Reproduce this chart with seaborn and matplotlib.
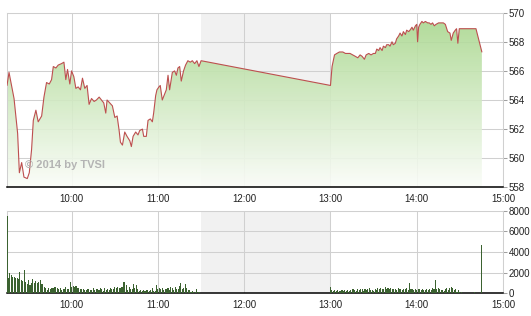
import numpy as np
import matplotlib
matplotlib.use("Agg")
import matplotlib.pyplot as plt
import seaborn as sns
from matplotlib.colors import LinearSegmentedColormap

# ---- data (minutes after 09:00) ----
price_min_am = [15, 16.4, 19.9, 22.4, 23.6, 25.2, 26.8, 29.1, 30.5, 32.1,
                33.3, 35.1, 36.7, 39.1, 40.7, 42.5, 44.4, 46.0, 47.2, 49.0,
                50.6, 52.9, 54.6, 55.9, 57.1, 58.7, 59.9, 61.5, 62.9, 64.5,
                66.1, 67.5, 69.1, 70.7, 72.1, 73.8, 75.6, 77.2, 79.1, 80.7,
                82.3, 83.7, 84.6, 86.5, 88.3, 90.0, 91.6, 93.0, 93.9, 95.3,
                96.9, 98.5, 100.4, 101.5, 102.7, 104.5, 106.1, 107.3, 109.2, 110.1,
                111.9, 113.1, 114.7, 116.1, 117.0, 118.4, 119.3, 120.7, 121.6, 123.0,
                124.2, 125.8, 127.0, 128.1, 130.0, 131.6, 132.8, 133.9, 135.1, 136.2,
                137.8, 139.2, 140.8, 142.5, 143.9, 145.5, 147.1, 148.5, 150]
price_val_am = [565.0, 565.9, 564.1, 561.7, 559.0, 559.7, 558.7, 558.6, 559.0, 560.6,
                562.6, 563.3, 562.5, 562.9, 564.2, 565.2, 565.1, 565.4, 566.3, 566.2,
                566.4, 566.5, 566.6, 565.4, 566.1, 565.1, 566.0, 565.6, 564.8, 564.9,
                564.7, 565.5, 564.8, 565.0, 563.7, 564.1, 563.9, 564.0, 564.2, 564.0,
                563.8, 563.1, 564.0, 563.8, 563.6, 562.8, 562.9, 561.9, 561.1, 560.9,
                561.8, 561.5, 561.2, 560.8, 561.5, 561.8, 561.6, 561.9, 562.0, 561.5,
                561.5, 562.6, 562.7, 562.5, 563.1, 564.3, 564.7, 564.9, 565.0, 564.0,
                564.3, 564.7, 565.7, 564.7, 565.9, 566.0, 565.7, 566.2, 566.3, 565.3,
                566.0, 566.4, 566.7, 566.6, 566.7, 566.5, 566.7, 566.3, 566.7]
price_min_pm = [240, 241.1, 242.8, 244.4, 246.2, 248.6, 250.4, 252.0, 253.6, 255.5,
                257.3, 259.0, 260.6, 262.0, 263.6, 264.8, 266.6, 268.2, 269.9, 271.2,
                272.2, 273.5, 274.5, 275.9, 276.8, 278.2, 279.1, 280.5, 281.4, 282.8,
                283.7, 285.1, 286.0, 287.4, 288.4, 289.7, 290.7, 292.1, 293.0, 294.4,
                295.3, 296.7, 297.6, 299.1, 300.0, 300.6, 301.3, 302.2, 303.6, 304.6,
                306.0, 307.6, 308.7, 309.9, 311.0, 312.2, 313.4, 315.2, 316.8, 318.5,
                319.9, 321.5, 323.1, 324.0, 325.4, 326.8, 327.7, 328.6, 329.6, 341.2,
                345.3]
price_val_pm = [565.0, 566.3, 567.1, 567.2, 567.3, 567.3, 567.2, 567.2, 567.2, 567.1,
                567.0, 566.9, 567.1, 567.0, 566.8, 567.1, 567.2, 567.1, 567.2, 567.2,
                567.5, 567.4, 567.6, 567.4, 567.7, 567.6, 567.8, 567.8, 567.7, 568.0,
                567.8, 567.9, 568.2, 568.4, 568.6, 568.4, 568.7, 568.5, 568.8, 568.7,
                568.8, 569.0, 568.8, 569.1, 569.2, 568.0, 569.0, 569.2, 569.4, 569.3,
                569.4, 569.3, 569.3, 569.2, 569.3, 569.1, 569.2, 569.3, 569.3, 569.3,
                569.2, 568.7, 568.6, 568.1, 568.6, 568.8, 568.9, 567.9, 568.9, 568.9,
                567.3]

vol_min_am = list(range(15, 151))
vol_val_am = [7500, 1500, 1940, 1780, 1600, 1600, 1500, 1450, 1400, 2100,
              1300, 1200, 2260, 1130, 870, 1300, 800, 1000, 1390, 970,
              1200, 970, 1100, 1300, 870, 870, 650, 480, 320, 480,
              420, 480, 480, 650, 600, 550, 420, 480, 320, 390,
              390, 650, 420, 420, 1070, 650, 740, 650, 740, 550,
              480, 390, 390, 420, 320, 350, 390, 420, 320, 320,
              480, 320, 390, 420, 320, 480, 420, 260, 480, 320,
              390, 320, 480, 390, 390, 580, 480, 650, 480, 480,
              580, 1070, 1130, 800, 320, 580, 390, 390, 870, 480,
              800, 390, 260, 320, 260, 320, 260, 320, 320, 260,
              320, 480, 260, 260, 800, 390, 480, 390, 480, 320,
              390, 390, 480, 320, 650, 480, 320, 650, 390, 390,
              700, 970, 390, 480, 900, 480, 320, 320, 160, 260,
              160, 160, 390, 160, 100, 60]
vol_min_pm = list(range(240, 332)) + [340, 345]
vol_val_pm = [650, 320, 230, 320, 260, 320, 230, 230, 320, 260,
              320, 260, 320, 230, 320, 390, 390, 320, 260, 390,
              320, 390, 390, 260, 390, 320, 390, 480, 320, 320,
              260, 390, 320, 480, 420, 550, 390, 390, 580, 420,
              480, 390, 480, 390, 420, 420, 320, 480, 390, 420,
              320, 390, 390, 480, 320, 1030, 390, 390, 320, 420,
              320, 390, 420, 320, 420, 320, 320, 390, 320, 390,
              320, 480, 390, 1290, 390, 480, 390, 320, 320, 230,
              390, 480, 320, 480, 650, 480, 320, 420, 160, 320,
              160, 100, 100, 4700]

time_ticks = [60, 120, 180, 240, 300, 360]
time_labels = ["10:00", "11:00", "12:00", "13:00", "14:00", "15:00"]
price_ticks = [558, 560, 562, 564, 566, 568, 570]
vol_ticks = [0, 2000, 4000, 6000, 8000]
lunch = (150, 240)
watermark = "© 2014 by TVSI"

price_min = price_min_am + price_min_pm
price_val = price_val_am + price_val_pm
vol_min = vol_min_am + vol_min_pm
vol_val = vol_val_am + vol_val_pm

# ---- style ----
sns.set_style("white")
plt.rcParams['font.family'] = ['Liberation Sans', 'DejaVu Sans']

W, H = 531, 316
fig = plt.figure(figsize=(W / 100, H / 100), dpi=100)
L, R = 7, 503
ax1 = fig.add_axes([L / W, 1 - 187.3 / H, (R - L) / W, (187.3 - 12.7) / H])
ax2 = fig.add_axes([L / W, 1 - 293.3 / H, (R - L) / W, (293.3 - 210.7) / H])

grid_c = '#d0d0d0'
for ax in (ax1, ax2):
    ax.axvspan(*lunch, color='#f1f1f1', zorder=0, lw=0)
    ax.set_axisbelow(True)
    ax.grid(True, color=grid_c, lw=0.75)
    for s in ('left', 'right', 'top'):
        ax.spines[s].set_color(grid_c)
        ax.spines[s].set_linewidth(0.75)
    ax.spines['bottom'].set_color('black')
    ax.spines['bottom'].set_linewidth(1.1)

# price line + gradient fill
sns.lineplot(x=price_min, y=price_val, ax=ax1, color='#bd4f4f', lw=0.8, zorder=4)
poly = ax1.fill_between(price_min, price_val, 558, color='none', lw=0)
cmap = LinearSegmentedColormap.from_list('g', ['#fbfdf9', '#a6d68a'])
grad = np.linspace(0, 1, 256).reshape(-1, 1)
im = ax1.imshow(grad, extent=[15, 360, 558, 570], aspect='auto', origin='lower',
                cmap=cmap, zorder=2, alpha=0.9, interpolation='bilinear')
im.set_clip_path(poly.get_paths()[0], ax1.transData)
ax1.text(27.5, 559.55, watermark, color='#b4b4b4', fontsize=8, fontweight='bold',
         ha='left', va='center', zorder=5)

# volume bars
sns.barplot(x=vol_min, y=vol_val, ax=ax2, native_scale=True, color='#3b6230',
            saturation=1, errorbar=None, width=0.75, zorder=3, linewidth=0)

for ax, ticks, lim in ((ax1, price_ticks, (558, 570)), (ax2, vol_ticks, (0, 8000))):
    ax.set_xlim(15, 360)
    ax.set_ylim(*lim)
    ax.set_xticks(time_ticks)
    ax.set_xticklabels(time_labels)
    ax.set_yticks(ticks)
    ax.set_yticklabels([str(t) for t in ticks])
    ax.yaxis.tick_right()
    ax.tick_params(axis='y', length=3, width=0.75, color='#a0a0a0', pad=1,
                   labelsize=7, labelcolor='#222222')
    ax.tick_params(axis='x', length=0, pad=5, labelsize=7, labelcolor='#222222')
    ax.set_xlabel('')
    ax.set_ylabel('')

fig.savefig('out.png', dpi=100)
